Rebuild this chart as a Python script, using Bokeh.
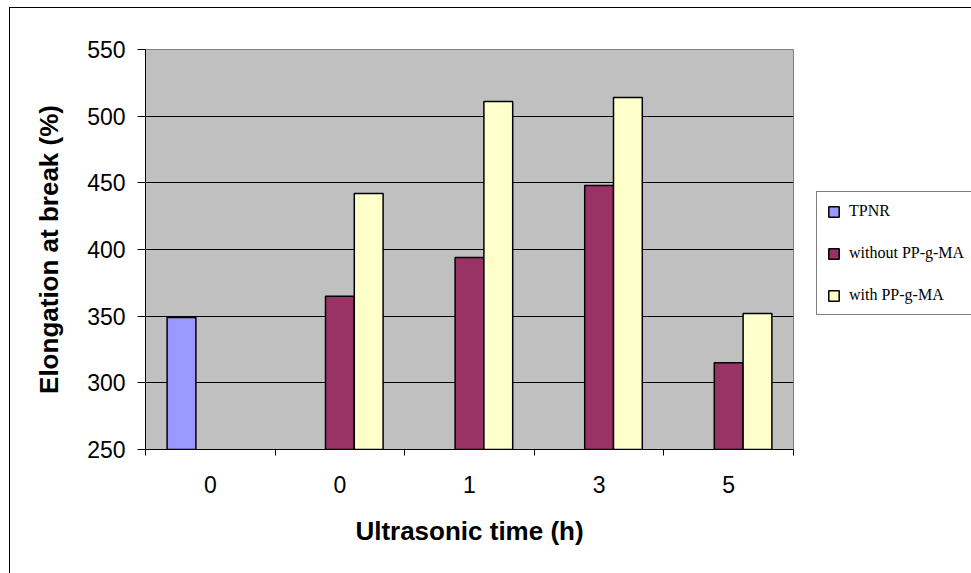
from bokeh.plotting import figure
from bokeh.models import (ColumnDataSource, FixedTicker, Legend, LegendItem,
                          Range1d)
from bokeh.transform import dodge
from bokeh.embed import file_html
from bokeh.resources import INLINE

# ---- data ----
tick_labels = ["0", "0", "1", "3", "5"]
tpnr_idx = [0]
tpnr_vals = [349]
without_idx = [1, 2, 3, 4]
without_vals = [365, 394, 448, 315]
with_idx = [1, 2, 3, 4]
with_vals = [442, 511, 514, 352]
series_names = ["TPNR", "without PP-g-MA", "with PP-g-MA"]
colors = ["#9999FF", "#993366", "#FFFFCC"]

n_groups = len(tick_labels)
bar_w = 1 / 4.5

p = figure(frame_width=648, frame_height=400, width=962, height=566,
           output_backend="svg", toolbar_location=None,
           x_range=Range1d(0, n_groups), y_range=Range1d(250, 550),
           min_border_left=135, min_border_right=179,
           min_border_top=41, min_border_bottom=125)
p.margin = (7, 0, 0, 9)
p.styles = {"border-left": "1.5px solid black", "border-top": "1.5px solid black"}
p.background_fill_color = "#C0C0C0"
p.border_fill_color = "white"
p.outline_line_color = "#808080"
p.outline_line_width = 1

def src(idx, vals):
    return ColumnDataSource(dict(x=[i + 0.5 for i in idx], top=vals))

r1 = p.vbar(x=dodge("x", -bar_w, range=p.x_range), top="top", bottom=250,
            width=bar_w, source=src(tpnr_idx, tpnr_vals),
            fill_color=colors[0], line_color="black", line_width=1.5)
r2 = p.vbar(x=dodge("x", 0, range=p.x_range), top="top", bottom=250,
            width=bar_w, source=src(without_idx, without_vals),
            fill_color=colors[1], line_color="black", line_width=1.5)
r3 = p.vbar(x=dodge("x", bar_w, range=p.x_range), top="top", bottom=250,
            width=bar_w, source=src(with_idx, with_vals),
            fill_color=colors[2], line_color="black", line_width=1.5)

# grid
p.xgrid.visible = False
p.ygrid.grid_line_color = "black"
p.ygrid.grid_line_width = 1
p.ygrid.ticker = FixedTicker(ticks=list(range(250, 551, 50)))

# x axis
xa = p.xaxis[0]
xa.ticker = FixedTicker(ticks=[i + 0.5 for i in range(n_groups)],
                        minor_ticks=list(range(n_groups + 1)))
xa.major_label_overrides = {i + 0.5: lab for i, lab in enumerate(tick_labels)}
xa.major_tick_out = 0
xa.major_tick_in = 0
xa.minor_tick_out = 6
xa.minor_tick_in = 0
xa.minor_tick_line_color = "black"
xa.axis_line_color = "black"
xa.major_label_text_font = "Liberation Sans"
xa.major_label_text_font_size = "23px"
xa.major_label_text_color = "black"
xa.major_label_standoff = 20
xa.axis_label = "Ultrasonic time (h)"
xa.axis_label_text_font = "Liberation Sans"
xa.axis_label_text_font_size = "26px"
xa.axis_label_text_font_style = "bold"
xa.axis_label_text_color = "black"
xa.axis_label_standoff = 20

# y axis
ya = p.yaxis[0]
ya.ticker = FixedTicker(ticks=list(range(250, 551, 50)))
ya.major_tick_out = 8
ya.major_tick_in = 0
ya.minor_tick_out = 0
ya.minor_tick_in = 0
ya.axis_line_color = "black"
ya.major_label_text_font = "Liberation Sans"
ya.major_label_text_font_size = "23px"
ya.major_label_text_color = "black"
ya.major_label_standoff = 12
ya.axis_label = "Elongation at break (%)"
ya.axis_label_text_font = "Liberation Sans"
ya.axis_label_text_font_size = "26px"
ya.axis_label_text_font_style = "bold"
ya.axis_label_text_color = "black"
ya.axis_label_standoff = 20

# legend (in the right-hand panel)
legend = Legend(items=[LegendItem(label=series_names[0], renderers=[r1]),
                       LegendItem(label=series_names[1], renderers=[r2]),
                       LegendItem(label=series_names[2], renderers=[r3])],
                location=(23, 134))
legend.label_text_font = "Liberation Serif"
legend.label_text_font_size = "16px"
legend.label_text_color = "black"
legend.glyph_width = 13
legend.glyph_height = 13
legend.label_standoff = 9
legend.padding = 10
legend.spacing = 24
legend.margin = 0
legend.border_line_color = "black"
legend.border_line_width = 1
legend.background_fill_color = "white"
legend.background_fill_alpha = 1
p.add_layout(legend, "right")

open("out.html", "w").write(file_html(p, INLINE))
